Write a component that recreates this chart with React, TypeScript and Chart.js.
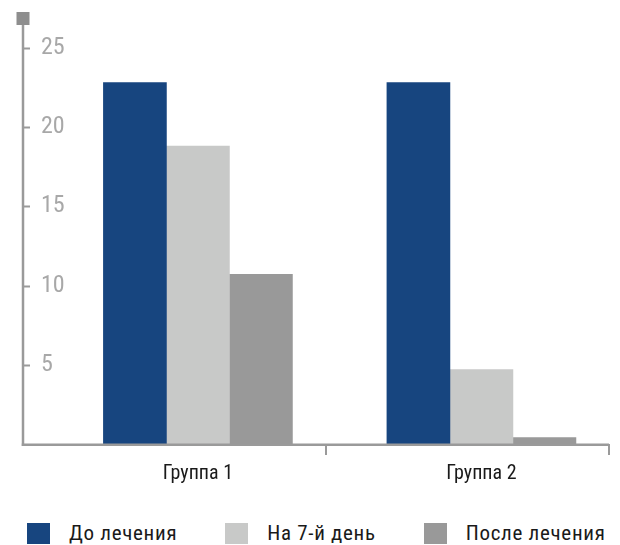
import React, { useEffect, useRef } from 'react';
import { Chart, registerables } from 'chart.js';

Chart.register(...registerables);

// Groups on the horizontal axis and their positions on the linear x scale
const GROUPS = ['Группа 1', 'Группа 2'];
const GROUP_POS = [1, 2];
// Tick marks separating the groups on the x axis
const X_BOUNDS = [1.452, 2.45];
const X_MIN = 0.383;
const X_MAX = 2.45;

// Series
const SERIES_NAMES = ['До лечения', 'На 7-й день', 'После лечения'];
const BEFORE = [22.8, 22.8];
const DAY7 = [18.8, 4.7];
const AFTER = [10.7, 0.4];
const SERIES_COLORS = ['#17457f', '#c8c9c8', '#999999'];

// Value axis
const Y_TICKS = [5, 10, 15, 20, 25];
const Y_MAX = 26.5;

const FONT = '"Roboto Condensed", "Liberation Sans Narrow", "Arial Narrow", "DejaVu Sans Condensed", Roboto, sans-serif';
const AXIS_COLOR = '#9a9a9a';

const axesPlugin = {
  id: 'axesDecor',
  afterDatasetsDraw(chart: any) {
    const { ctx, chartArea: a, scales } = chart;
    const x = scales.x;
    const y = scales.y;
    ctx.save();
    ctx.strokeStyle = AXIS_COLOR;
    ctx.lineCap = 'butt';

    // value axis ticks, inside the plot
    ctx.lineWidth = 2;
    Y_TICKS.forEach((v) => {
      const py = Math.round(y.getPixelForValue(v)) + 0.5;
      ctx.beginPath();
      ctx.moveTo(a.left, py);
      ctx.lineTo(a.left + 7, py);
      ctx.stroke();
    });

    // group separators below the x axis
    X_BOUNDS.forEach((b) => {
      const px = Math.round(x.getPixelForValue(b));
      ctx.beginPath();
      ctx.moveTo(px, a.bottom);
      ctx.lineTo(px, a.bottom + 11);
      ctx.stroke();
    });

    // axis lines
    ctx.lineWidth = 2.5;
    ctx.beginPath();
    ctx.moveTo(a.left, a.top);
    ctx.lineTo(a.left, a.bottom + 2);
    ctx.stroke();
    ctx.beginPath();
    ctx.moveTo(a.left - 1.25, a.bottom + 0.8);
    ctx.lineTo(a.right, a.bottom + 0.8);
    ctx.stroke();

    // end marker on top of the value axis
    ctx.fillStyle = '#8e8e8e';
    ctx.fillRect(a.left - 6.5, a.top - 12, 13, 13);
    ctx.restore();
  },
};

export default function App() {
  const canvasRef = useRef<HTMLCanvasElement | null>(null);

  useEffect(() => {
    document.body.style.margin = '0';
    document.body.style.overflow = 'hidden';
    const canvas = canvasRef.current;
    if (!canvas) return;
    const series = [BEFORE, DAY7, AFTER];
    const chart = new Chart(canvas, {
      type: 'bar',
      data: {
        datasets: series.map((vals, i) => ({
          label: SERIES_NAMES[i],
          data: vals.map((v, j) => ({ x: GROUP_POS[j], y: v })),
          backgroundColor: SERIES_COLORS[i],
          borderWidth: 0,
          barThickness: 63,
        })),
      },
      options: {
        animation: false,
        responsive: false,
        maintainAspectRatio: false,
        layout: { padding: { left: 0, right: 11, top: 24, bottom: 0 } },
        plugins: {
          legend: { display: false },
          tooltip: { enabled: false },
        },
        scales: {
          x: {
            type: 'linear',
            min: X_MIN,
            max: X_MAX,
            offset: false,
            grid: { display: false, drawTicks: false, offset: false },
            border: { display: false },
            afterBuildTicks: (scale: any) => {
              scale.ticks = GROUP_POS.map((v) => ({ value: v }));
            },
            afterFit: (scale: any) => {
              scale.height = 61;
              scale.paddingLeft = 0;
              scale.paddingRight = 0;
            },
            ticks: {
              autoSkip: false,
              maxRotation: 0,
              padding: 18,
              color: '#1a1a1a',
              font: { family: FONT, size: 20 },
              callback: (v: any) => {
                const i = GROUP_POS.indexOf(Number(v));
                return i >= 0 ? GROUPS[i] : '';
              },
            },
          },
          y: {
            min: 0,
            max: Y_MAX,
            grid: { display: false, drawTicks: false },
            border: { display: false },
            afterBuildTicks: (scale: any) => {
              scale.ticks = Y_TICKS.map((v) => ({ value: v }));
            },
            afterFit: (scale: any) => {
              scale.width = 23;
              scale.paddingTop = 0;
              scale.paddingBottom = 0;
            },
            ticks: {
              mirror: true,
              padding: 18,
              color: '#a8a8a8',
              font: { family: FONT, size: 24 },
            },
          },
        },
      },
      plugins: [axesPlugin],
    });
    return () => chart.destroy();
  }, []);

  return (
    <div style={{ width: 620, height: 545, position: 'relative', background: '#fff' }}>
      <canvas ref={canvasRef} width={620} height={505} style={{ display: 'block' }} />
      <div
        style={{
          display: 'flex',
          alignItems: 'center',
          paddingLeft: 27,
          paddingTop: 18,
          fontFamily: FONT,
          fontSize: 21,
          letterSpacing: '0.7px',
          color: '#1a1a1a',
          lineHeight: '21px',
          whiteSpace: 'nowrap',
        }}
      >
        {SERIES_NAMES.map((name, i) => (
          <div
            key={name}
            style={{ display: 'flex', alignItems: 'center', marginRight: 48, flexShrink: 0 }}
          >
            <span
              style={{
                display: 'inline-block',
                width: 23,
                height: 21,
                background: SERIES_COLORS[i],
                marginRight: 19,
                flexShrink: 0,
              }}
            />
            <span>{name}</span>
          </div>
        ))}
      </div>
    </div>
  );
}
